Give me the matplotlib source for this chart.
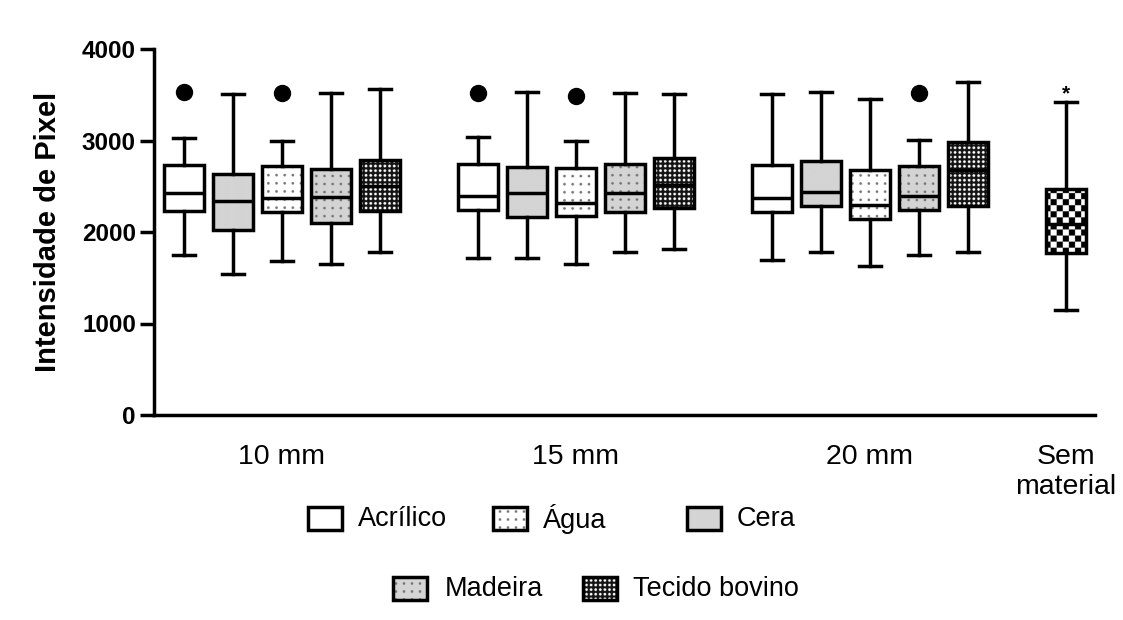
import numpy as np
import matplotlib
matplotlib.use("Agg")
import matplotlib.pyplot as plt
from matplotlib.patches import Rectangle

plt.rcParams['font.family'] = ['Liberation Sans', 'DejaVu Sans']

# ---- data: five-number summaries (whislo, q1, median, q3, whishi) ----
groups = ["10 mm", "15 mm", "20 mm", "Sem\nmaterial"]
materials = ["Acrílico", "Cera", "Água", "Madeira", "Tecido bovino"]

stats_10mm = [
    [1744, 2234, 2423, 2732, 3022],
    [1544, 2024, 2336, 2634, 3506],
    [1682, 2216, 2369, 2721, 2997],
    [1646, 2100, 2387, 2688, 3517],
    [1780, 2227, 2507, 2787, 3568],
]
outliers_10mm = [[3531], [], [3517], [], []]

stats_15mm = [
    [1715, 2242, 2390, 2743, 3033],
    [1715, 2162, 2427, 2714, 3535],
    [1653, 2180, 2318, 2700, 2997],
    [1780, 2216, 2427, 2743, 3524],
    [1809, 2260, 2518, 2808, 3506],
]
outliers_15mm = [[3517], [], [3488], [], []]

stats_20mm = [
    [1697, 2216, 2372, 2736, 3506],
    [1780, 2281, 2434, 2779, 3535],
    [1624, 2144, 2296, 2681, 3459],
    [1744, 2242, 2390, 2725, 3008],
    [1780, 2281, 2678, 2986, 3644],
]
outliers_20mm = [[], [], [], [3517], []]

stats_sem = [1144, 1769, 2089, 2471, 3422]
outliers_sem = []

# fill style for each material
fills = {"Acrílico": "white", "Cera": "gray", "Água": "dots_white",
         "Madeira": "dots_gray", "Tecido bovino": "fine", "Sem material": "checker"}


def pattern(kind, X, Y):
    """Greyscale value for a fill style at display pixel coords X, Y."""
    if kind == "white":
        return np.ones_like(X)
    if kind == "gray":
        return np.full_like(X, 0.83)
    if kind in ("dots_white", "dots_gray"):
        base = 1.0 if kind == "dots_white" else 0.83
        p = 8.0
        dx = np.mod(X, p) - p / 2
        dy = np.mod(Y, p) - p / 2
        out = np.full_like(X, base)
        out[dx ** 2 + dy ** 2 < 1.3 ** 2] = 0.45
        return out
    if kind == "fine":
        p = 4.6
        dx = np.mod(X, p) - p / 2
        dy = np.mod(Y, p) - p / 2
        out = np.full_like(X, 0.08)
        out[dx ** 2 + dy ** 2 < 1.35 ** 2] = 1.0
        return out
    if kind == "checker":
        c = 6.0
        v = (np.floor(X / c) + np.floor(Y / c)) % 2
        return np.where(v > 0, 1.0, 0.0)
    return np.ones_like(X)


def fill_rect(ax, x0, x1, ya, yb, kind, zorder=2, ss=4):
    tr = ax.transData
    (dxa, dya) = tr.transform((x0, ya))
    (dxb, dyb) = tr.transform((x1, yb))
    X0, X1 = sorted([dxa, dxb])
    if dya > dyb:
        top_d, bot_d, top_v, bot_v = dya, dyb, ya, yb
    else:
        top_d, bot_d, top_v, bot_v = dyb, dya, yb, ya
    nx = max(2, int(np.ceil((X1 - X0) * ss)))
    ny = max(2, int(np.ceil((top_d - bot_d) * ss)))
    xs = X0 + (np.arange(nx) + 0.5) * (X1 - X0) / nx
    ys = top_d - (np.arange(ny) + 0.5) * (top_d - bot_d) / ny
    XX, YY = np.meshgrid(xs, ys)
    g = pattern(kind, XX, YY)
    ax.imshow(g, cmap="gray", vmin=0, vmax=1, origin="upper",
              extent=(x0, x1, bot_v, top_v), aspect="auto",
              interpolation="antialiased", zorder=zorder)


fig = plt.figure(figsize=(11.23, 6.2), dpi=100)
W, H = 1123, 620
ax = fig.add_axes([154 / W, 1 - 415 / H, (1095 - 154) / W, (415 - 49) / H])
ax.set_xlim(0.39, 19.6)
ax.set_ylim(0, 4000)
ax.set_autoscale_on(False)

# positions: five boxes per thickness group, gap of one slot between groups
positions = [1, 2, 3, 4, 5, 7, 8, 9, 10, 11, 13, 14, 15, 16, 17, 19]
labels_fill = materials * 3 + ["Sem material"]

all_stats = stats_10mm + stats_15mm + stats_20mm + [stats_sem]
all_out = outliers_10mm + outliers_15mm + outliers_20mm + [outliers_sem]

bxp_stats = []
for s, o in zip(all_stats, all_out):
    bxp_stats.append(dict(whislo=s[0], q1=s[1], med=s[2], q3=s[3],
                          whishi=s[4], fliers=o))

lw = 2.5
box_w = 0.82
ax.bxp(bxp_stats, positions=positions, widths=box_w, capwidths=0.45,
       patch_artist=True, showfliers=True, zorder=3,
       boxprops=dict(facecolor="none", edgecolor="black", linewidth=lw,
                     joinstyle="miter"),
       whiskerprops=dict(color="black", linewidth=lw),
       capprops=dict(color="black", linewidth=lw),
       medianprops=dict(color="black", linewidth=lw),
       flierprops=dict(marker="o", markerfacecolor="black",
                       markeredgecolor="black", markersize=11.5))

for pos, s, name in zip(positions, all_stats, labels_fill):
    fill_rect(ax, pos - box_w / 2, pos + box_w / 2, s[1], s[3], fills[name])

# significance mark over the control
ax.annotate("*", xy=(positions[-1], stats_sem[4]), xytext=(0, 2),
            textcoords="offset points", ha="center", va="baseline",
            fontsize=15, fontweight="bold")

# axes styling
for side in ("top", "right"):
    ax.spines[side].set_visible(False)
for side in ("left", "bottom"):
    ax.spines[side].set_linewidth(lw)
ax.set_yticks([0, 1000, 2000, 3000, 4000])
ax.tick_params(axis="y", direction="out", length=10, width=lw, pad=3,
               labelsize=17.5)
for t in ax.get_yticklabels():
    t.set_fontweight("bold")
ax.set_xticks([3, 9, 15, 19])
ax.set_xticklabels(groups, fontsize=20.5)
ax.tick_params(axis="x", length=0, pad=21)
ax.set_ylabel("Intensidade de Pixel", fontsize=21, fontweight="bold")
ax.yaxis.set_label_coords((62 - 154) / (1095 - 154), 0.5)

# legend drawn in figure pixel coordinates
leg = fig.add_axes([0, 0, 1, 1], zorder=-1)
leg.set_xlim(0, W)
leg.set_ylim(H, 0)
leg.axis("off")
leg.set_autoscale_on(False)
legend_items = [("Acrílico", 308, 518, 358), ("Água", 493, 518, 543),
                ("Cera", 687, 518, 737), ("Madeira", 393, 588, 445),
                ("Tecido bovino", 583, 588, 633)]
kw, kh = 34, 23
for name, kx, ky, tx in legend_items:
    fill_rect(leg, kx, kx + kw, ky + kh / 2, ky - kh / 2, fills[name])
    leg.add_patch(Rectangle((kx, ky - kh / 2), kw, kh, facecolor="none",
                            edgecolor="black", linewidth=lw, zorder=3,
                            joinstyle="miter"))
    leg.text(tx, ky + 1, name, fontsize=19.5, ha="left", va="center")

fig.savefig("out.png", dpi=100, facecolor="white")
